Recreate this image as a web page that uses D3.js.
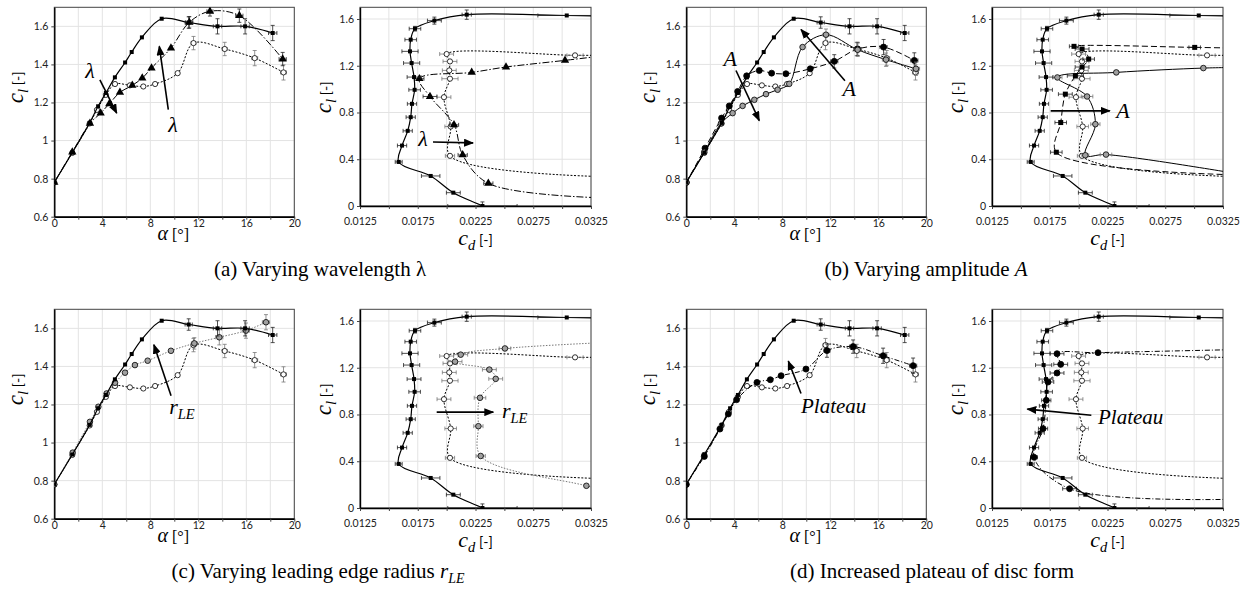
<!DOCTYPE html>
<html>
<head>
<meta charset="utf-8">
<script src="https://cdn.jsdelivr.net/npm/d3@7"></script>
<style>
  body { margin: 0; background: #fff; }
  svg { display: block; }
  .tick text { font-family: Lato, "Open Sans", sans-serif; font-size: 10.5px; fill: #222; }
</style>
</head>
<body>
<svg id="chart" width="1248" height="590"></svg>
<script>
// ---------- data: [x, y, xerr, yerr] ----------
// lift curves, alpha [deg] vs cl
const baseLift = [[-1.5,0.62],[0,0.78],[1.5,0.937],[2.95,1.093],[3.65,1.18],[4.3,1.25],[5.05,1.332],[5.9,1.41],[6.45,1.465],[7.3,1.542],[8.95,1.64],[11.2,1.62,0.3,0.03],[13.6,1.6,0.35,0.04],[15.9,1.6,0.35,0.04],[18.2,1.565,0.35,0.04]];
const openLift = [[-1.5,0.62],[0,0.78],[1.5,0.935],[2.95,1.09],[3.55,1.161],[4.3,1.24],[5.06,1.297],[6.3,1.29],[7.42,1.284],[8.4,1.297],[10.28,1.354],[11.6,1.512,0.2,0.035],[14.2,1.481,0.2,0.035],[16.7,1.433,0.25,0.04],[19.1,1.358,0.25,0.04]];
const triLift = [[-1.5,0.62],[0,0.78],[1.5,0.94],[2.97,1.09],[3.86,1.144],[4.58,1.193],[5.47,1.253],[6.5,1.29],[7.33,1.328],[8.1,1.381],[9.72,1.486],[11.25,1.621,0.3,0.03],[12.97,1.679,0.25,0.025],[15.42,1.656,0.3,0.035],[19.03,1.428,0.3,0.035]];
const filledLiftB = [[-1.5,0.62],[0,0.78],[1.56,0.96],[2.94,1.118],[3.58,1.182],[4.28,1.258],[5.03,1.34],[6.08,1.368],[7.11,1.354],[8.3,1.351],[10.33,1.377],[12.33,1.416,0.3,0.035],[14.28,1.481,0.3,0.035],[16.44,1.491,0.3,0.04],[19.0,1.421,0.3,0.04]];
const grayLiftB = [[-1.5,0.62],[0,0.78],[1.5,0.94],[2.89,1.09],[3.86,1.144],[4.69,1.182],[5.67,1.214],[6.64,1.244],[7.61,1.267],[8.58,1.298],[9.69,1.491],[11.64,1.556,0.25,0.03],[14.28,1.477,0.3,0.035],[16.64,1.425,0.3,0.035],[19.14,1.377,0.3,0.035]];
const grayLiftC = [[-1.5,0.62],[0,0.78],[1.53,0.947],[2.97,1.109],[3.67,1.188],[4.36,1.258],[5.06,1.314],[5.89,1.367],[6.72,1.407],[7.78,1.43],[9.72,1.482],[11.67,1.521,0.25,0.03],[13.75,1.553,0.3,0.04],[15.97,1.588,0.3,0.04],[17.64,1.632,0.3,0.04]];
const filledLiftD = [[-1.5,0.62],[0,0.78],[1.5,0.927],[2.8,1.071],[3.5,1.15],[4.19,1.225],[5.89,1.316],[7.0,1.33],[7.9,1.351],[9.97,1.386],[11.72,1.483,0.25,0.035],[13.9,1.504,0.3,0.035],[16.4,1.456,0.3,0.04],[18.9,1.404,0.3,0.04]];

// drag polars, cd vs cl
const basePolar = [[0.0245,-0.08],[0.0231,0.0,0.003,0.035],[0.02058,0.114,0.0006],[0.01862,0.257,0.0008],[0.01585,0.377,0.0003],[0.01614,0.517,0.0004],[0.01663,0.643,0.0004],[0.01689,0.76,0.0004],[0.017,0.874,0.0004],[0.01723,0.994,0.0005],[0.01718,1.103,0.0006],[0.01697,1.223,0.0007],[0.01683,1.323,0.0007],[0.01689,1.423,0.0005],[0.01726,1.517,0.0005,0.02],[0.01894,1.586,0.0006,0.03],[0.02174,1.637,0.0004,0.04],[0.0304,1.63,0.0025],[0.034,1.625]];
const openPolar = [[0.034,0.25],[0.02029,0.429,0.0004],[0.02035,0.68,0.0005],[0.01977,0.931,0.0006],[0.02029,1.089,0.0007],[0.02023,1.16,0.0006],[0.02029,1.237,0.0006],[0.0200,1.30,0.0006],[0.03112,1.289,0.0007],[0.034,1.29]];
const triPolar = [[0.034,0.068],[0.02361,0.194,0.0004],[0.02139,0.437,0.0004],[0.02064,0.694,0.0004],[0.01856,0.937,0.0006],[0.01764,1.089,0.0004],[0.02217,1.143],[0.02514,1.189],[0.03025,1.246],[0.034,1.29]];
const filledPolarB = [[0.034,0.266],[0.01807,0.46,0.0005],[0.01845,0.714,0.0005],[0.01885,0.957,0.0006],[0.01972,1.114,0.0007],[0.0203,1.189,0.0006],[0.02087,1.257,0.0005],[0.0203,1.343,0.0006],[0.0196,1.366,0.0004],[0.03005,1.357,0.0005],[0.034,1.35]];
const grayPolarB = [[0.034,0.272],[0.02237,0.44,0.0005],[0.02058,0.434,0.0003],[0.02145,0.7,0.0004],[0.02073,0.937,0.0005],[0.01816,1.1,0.0004],[0.02326,1.143],[0.0308,1.18],[0.034,1.186]];
const grayPolarC = [[0.036,0.1],[0.0321,0.19],[0.02295,0.445,0.0004],[0.02275,0.70,0.0004],[0.02289,0.943,0.0005],[0.02425,1.105,0.0006],[0.0237,1.184,0.0006],[0.02073,1.252,0.0006],[0.02122,1.312,0.0006],[0.02505,1.365,0.0005],[0.034,1.417]];
const filledPolarD = [[0.034,0.076],[0.01922,0.165,0.0006],[0.01614,0.434,0.0003],[0.01692,0.679,0.0004],[0.0172,0.921,0.0004],[0.01735,1.078,0.0005],[0.01813,1.155,0.0006],[0.01845,1.229,0.0006],[0.01813,1.32,0.0006],[0.02168,1.329],[0.034,1.356]];

// ticks
const alphaTicks = d3.range(0, 11).map(i => i * 2);
const liftTicks = [0.6, 0.8, 1, 1.2, 1.4, 1.6];
const cdTicks = d3.range(0, 9).map(i => +(0.0125 + i * 0.0025).toFixed(4));
const polarTicks = [0, 0.4, 0.8, 1.2, 1.6];

// line / marker styles for each series kind
const styles = {
  base:    { stroke: "#000", width: 1.2, dash: null, marker: "square", fill: "#000", size: 4 },
  open:    { stroke: "#000", width: 1, dash: "2,1.6", marker: "circle", fill: "#fff", size: 2.6, eb: "#777" },
  tri:     { stroke: "#000", width: 1, dash: "7,2,1.5,2", marker: "triangle", fill: "#000", size: 30 },
  filledB: { stroke: "#000", width: 1, dash: "6,3", marker: "circle", fill: "#000", size: 3 },
  filledBs:{ stroke: "#000", width: 1, dash: "6,3", marker: "square", fill: "#000", size: 5 },
  grayB:   { stroke: "#000", width: 1, dash: null, marker: "circle", fill: "#a0a0a0", size: 2.8, eb: "#777" },
  grayC:   { stroke: "#777", width: 1, dash: "1.5,1.5", marker: "circle", fill: "#a0a0a0", size: 2.8, eb: "#777" },
  filledD: { stroke: "#000", width: 1, dash: "5,2,1,2", marker: "circle", fill: "#000", size: 3 }
};

const figs = [
  { col: 0, row: 0, capX: 320,
    lift: [["open", openLift], ["tri", triLift], ["base", baseLift]],
    polar: [["open", openPolar], ["tri", triPolar], ["base", basePolar]],
    liftArrows: [[3.8,1.319,5.2,1.144],[9.5,1.162,8.75,1.495]],
    liftLabels: [[2.98,1.33,"middle",[["λ",{i:1}]]],[9.9,1.043,"middle",[["λ",{i:1}]]]],
    polarArrows: [[0.01882,0.548,0.02229,0.54]],
    polarLabels: [[0.01795,0.514,"middle",[["λ",{i:1}]]]],
    caption: [["(a)  Varying wavelength ",{}],["λ",{}]] },
  { col: 632, row: 0, capX: 926,
    lift: [["open", openLift], ["filledB", filledLiftB], ["grayB", grayLiftB], ["base", baseLift]],
    polar: [["open", openPolar], ["filledBs", filledPolarB], ["grayB", grayPolarB], ["base", basePolar]],
    liftArrows: [[4.14,1.368,6.08,1.105],[13.22,1.314,9.56,1.583]],
    liftLabels: [[3.67,1.393,"middle",[["A",{i:1}]]],[13.58,1.235,"middle",[["A",{i:1}]]]],
    polarArrows: [[0.01758,0.814,0.0227,0.814]],
    polarLabels: [[0.02384,0.754,"middle",[["A",{i:1}]]]],
    caption: [["(b)  Varying amplitude ",{}],["A",{i:1}]] },
  { col: 0, row: 302, capX: 318,
    lift: [["open", openLift], ["grayC", grayLiftC], ["base", baseLift]],
    polar: [["open", openPolar], ["grayC", grayPolarC], ["base", basePolar]],
    liftArrows: [[9.73,1.246,8.3,1.514]],
    liftLabels: [[10.64,1.151,"middle",[["r",{i:1}],["LE",{i:1,sub:1}]]]],
    polarArrows: [[0.01914,0.82,0.02404,0.82]],
    polarLabels: [[0.02479,0.771,"start",[["r",{i:1}],["LE",{i:1,sub:1}]]]],
    caption: [["(c)  Varying leading edge radius ",{}],["r",{i:1}],["LE",{i:1,sub:1}]] },
  { col: 632, row: 302, capX: 932,
    lift: [["open", openLift], ["filledD", filledLiftD], ["base", baseLift]],
    polar: [["open", openPolar], ["filledD", filledPolarD], ["base", basePolar]],
    liftArrows: [[9.56,1.258,8.5,1.428]],
    liftLabels: [[9.56,1.156,"start",[["Plateau",{i:1,fs:21}]]]],
    polarArrows: [[0.0211,0.794,0.01556,0.846]],
    polarLabels: [[0.02168,0.722,"start",[["Plateau",{i:1,fs:21}]]]],
    caption: [["(d)  Increased plateau of disc form",{}]] }
];

const serif = '"Liberation Serif", "DejaVu Serif", serif';
const sans = 'Lato, "Open Sans", sans-serif';

const svg = d3.select("#chart");
const defs = svg.append("defs");
defs.append("marker").attr("id", "ah")
  .attr("viewBox", "0 0 10 8").attr("refX", 9).attr("refY", 4)
  .attr("markerWidth", 10).attr("markerHeight", 8)
  .attr("markerUnits", "userSpaceOnUse").attr("orient", "auto")
  .append("path").attr("d", "M0,0L10,4L0,8Z").attr("fill", "#000");

// writes text pieces with italic / subscript parts
function rich(text, parts, size) {
  let shift = 0;
  parts.forEach(([t, o]) => {
    const s = o.sub ? Math.round(size * 0.22) : 0;
    text.append("tspan")
      .attr("dy", s - shift)
      .style("font-style", o.i ? "italic" : "normal")
      .style("font-family", o.sans ? sans : serif)
      .style("font-size", (o.sub ? size * 0.66 : (o.fs || size)) + "px")
      .text(t);
    shift = s;
  });
  return text;
}

let clipN = 0;
function drawSeries(plot, x, y, data, st) {
  const line = d3.line().x(d => x(d[0])).y(d => y(d[1])).curve(d3.curveCatmullRom.alpha(0.5));
  plot.append("path").datum(data).attr("d", line)
    .attr("fill", "none").attr("stroke", st.stroke).attr("stroke-width", st.width)
    .attr("stroke-dasharray", st.dash);
  const ebc = st.eb || "#222";
  const xe = data.filter(d => d[2]);
  plot.selectAll(null).data(xe).enter().append("path")
    .attr("d", d => {
      const a = x(d[0] - d[2]), b = x(d[0] + d[2]), yy = y(d[1]);
      return `M${a},${yy}H${b}M${a},${yy - 2}V${yy + 2}M${b},${yy - 2}V${yy + 2}`;
    })
    .attr("stroke", ebc).attr("stroke-width", 0.8).attr("fill", "none");
  const ye = data.filter(d => d[3]);
  plot.selectAll(null).data(ye).enter().append("path")
    .attr("d", d => {
      const a = y(d[1] - d[3]), b = y(d[1] + d[3]), xx = x(d[0]);
      return `M${xx},${a}V${b}M${xx - 2},${a}H${xx + 2}M${xx - 2},${b}H${xx + 2}`;
    })
    .attr("stroke", ebc).attr("stroke-width", 0.8).attr("fill", "none");
  const [x0, x1] = x.domain(), [y0, y1] = y.domain();
  const pts = data.filter(d => d[0] >= x0 && d[0] <= x1 && d[1] >= y0 && d[1] <= y1);
  const m = plot.selectAll(null).data(pts).enter();
  if (st.marker === "circle") {
    m.append("circle").attr("cx", d => x(d[0])).attr("cy", d => y(d[1])).attr("r", st.size)
      .attr("fill", st.fill).attr("stroke", "#000").attr("stroke-width", 0.8);
  } else if (st.marker === "square") {
    m.append("rect").attr("x", d => x(d[0]) - st.size / 2).attr("y", d => y(d[1]) - st.size / 2)
      .attr("width", st.size).attr("height", st.size).attr("fill", st.fill);
  } else {
    m.append("path").attr("d", d3.symbol(d3.symbolTriangle, st.size))
      .attr("transform", d => `translate(${x(d[0])},${y(d[1])})`).attr("fill", st.fill);
  }
}

function panel(ox, oy, w, h, xs, ys, xTicks, xLab, yTicks, yFmt, series, arrows, labels, kind) {
  const g = svg.append("g").attr("transform", `translate(${ox},${oy})`);
  // grid
  g.append("g").selectAll("line").data(xTicks).enter().append("line")
    .attr("x1", d => xs(d)).attr("x2", d => xs(d)).attr("y1", 0).attr("y2", h)
    .attr("stroke", "#e3e3e3").attr("stroke-width", 1);
  g.append("g").selectAll("line").data(yTicks).enter().append("line")
    .attr("y1", d => ys(d)).attr("y2", d => ys(d)).attr("x1", 0).attr("x2", w)
    .attr("stroke", "#e3e3e3").attr("stroke-width", 1);
  g.append("rect").attr("width", w).attr("height", h).attr("fill", "none")
    .attr("stroke", "#444").attr("stroke-width", 1);

  // axes
  const xa = g.append("g").attr("transform", `translate(0,${h})`)
    .call(d3.axisBottom(xs).tickValues(xTicks).tickSize(3).tickSizeOuter(0).tickFormat(xLab));
  const ya = g.append("g")
    .call(d3.axisLeft(ys).tickValues(yTicks).tickSize(3).tickSizeOuter(0).tickFormat(yFmt));
  [xa, ya].forEach(a => { a.select(".domain").attr("stroke", "#000").attr("stroke-width", 1.4); a.selectAll(".tick line").attr("stroke", "#444"); });
  ya.selectAll(".tick text").attr("x", -6);
  xa.selectAll(".tick text").attr("dy", 0).attr("y", kind === "lift" ? 10 : 19);

  // clipped plot area
  const id = "clip" + (clipN++);
  defs.append("clipPath").attr("id", id).append("rect").attr("width", w).attr("height", h);
  const plot = g.append("g").attr("clip-path", `url(#${id})`);
  series.forEach(([k, data]) => drawSeries(plot, xs, ys, data, styles[k]));

  // annotations
  arrows.forEach(a => {
    g.append("line").attr("x1", xs(a[0])).attr("y1", ys(a[1])).attr("x2", xs(a[2])).attr("y2", ys(a[3]))
      .attr("stroke", "#000").attr("stroke-width", 1.6).attr("marker-end", "url(#ah)");
  });
  labels.forEach(l => {
    rich(g.append("text").attr("x", xs(l[0])).attr("y", ys(l[1])).attr("text-anchor", l[2]), l[3], 22);
  });
  return g;
}

const lw = 240, lh = 209.4, rw = 231, rh = 198.7;
const yTitle = [["c", {i:1}], ["l", {i:1, sub:1}], [" [-]", {sans:1, fs:14}]];

figs.forEach(f => {
  // lift curve
  const lx = d3.scaleLinear().domain([0, 20]).range([0, lw]);
  const ly = d3.scaleLinear().domain([0.6, 1.7]).range([lh, 0]);
  const gl = panel(54.3 + f.col, 7.3 + f.row, lw, lh, lx, ly, alphaTicks,
    d => d % 4 === 0 ? d : "", liftTicks, d => String(+d.toFixed(1)),
    f.lift, f.liftArrows, f.liftLabels, "lift");
  rich(gl.append("text").attr("text-anchor", "middle")
    .attr("transform", `translate(${-31},${80}) rotate(-90)`), yTitle, 23);
  rich(gl.append("text").attr("text-anchor", "middle").attr("x", 119).attr("y", 240 - 7.3),
    [["α", {i:1}], [" [°]", {fs:16}]], 20);

  // drag polar
  const px = d3.scaleLinear().domain([0.0125, 0.0325]).range([0, rw]);
  const py = d3.scaleLinear().domain([0, 1.7]).range([rh, 0]);
  const gp = panel(360 + f.col, 7.3 + f.row, rw, rh, px, py, cdTicks,
    (d, i) => i % 2 === 0 ? d.toFixed(4) : "", polarTicks, d => String(+d.toFixed(1)),
    f.polar, f.polarArrows, f.polarLabels, "polar");
  rich(gp.append("text").attr("text-anchor", "middle")
    .attr("transform", `translate(${-29},${90}) rotate(-90)`), yTitle, 23);
  rich(gp.append("text").attr("text-anchor", "middle").attr("x", rw / 2).attr("y", 245 - 7.3),
    [["c", {i:1}], ["d", {i:1, sub:1}], [" [-]", {sans:1, fs:14}]], 22);

  // caption
  rich(svg.append("text").attr("text-anchor", "middle").attr("x", f.capX).attr("y", 276 + f.row),
    f.caption, 21);
});
</script>
</body>
</html>
